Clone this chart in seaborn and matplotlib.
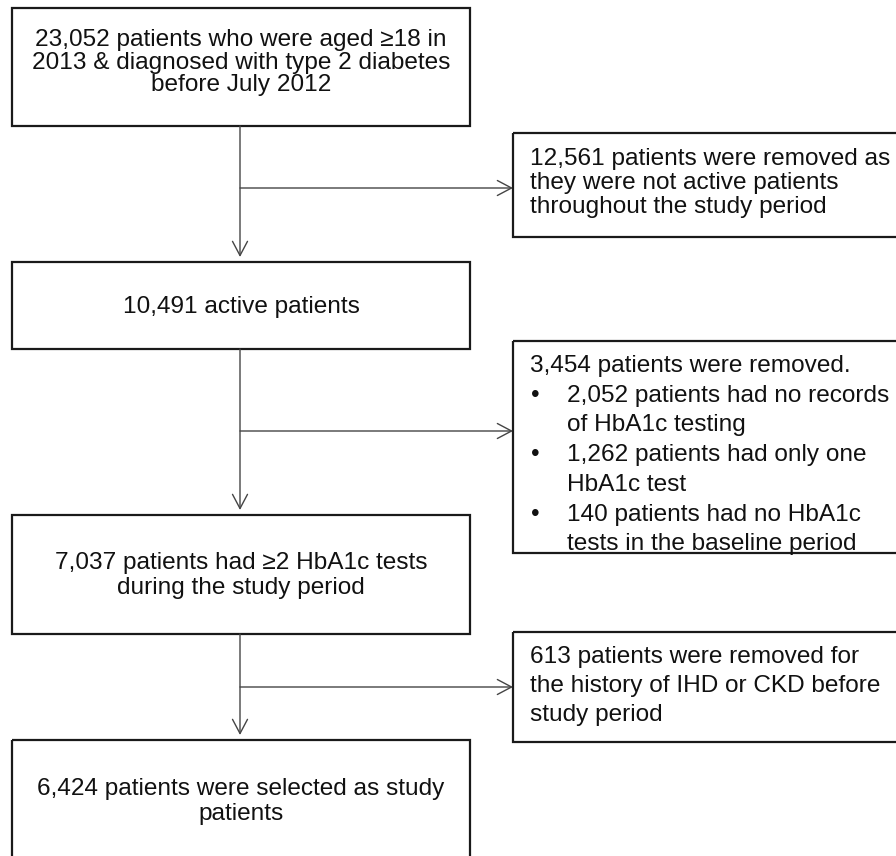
import matplotlib
matplotlib.use("Agg")
import matplotlib.pyplot as plt
import seaborn as sns
from matplotlib.patches import Rectangle

# flowchart content
main_lines = [
    ["23,052 patients who were aged \u226518 in",
     "2013 & diagnosed with type 2 diabetes",
     "before July 2012"],
    ["10,491 active patients"],
    ["7,037 patients had \u22652 HbA1c tests",
     "during the study period"],
    ["6,424 patients were selected as study",
     "patients"],
]
side_lines = [
    [("", "12,561 patients were removed as"),
     ("", "they were not active patients"),
     ("", "throughout the study period")],
    [("", "3,454 patients were removed."),
     ("\u2022", "2,052 patients had no records"),
     (" ", "of HbA1c testing"),
     ("\u2022", "1,262 patients had only one"),
     (" ", "HbA1c test"),
     ("\u2022", "140 patients had no HbA1c"),
     (" ", "tests in the baseline period")],
    [("", "613 patients were removed for"),
     ("", "the history of IHD or CKD before"),
     ("", "study period")],
]

# layout in pixel units (y grows downward)
main_boxes = [(12, 8, 470, 126), (12, 262, 470, 349), (12, 515, 470, 634), (12, 740, 470, 880)]
main_base = [(46, 22.5), (313, 0), (569, 25), (795, 25)]
side_boxes = [(513, 133, 910, 237), (513, 341, 910, 553), (513, 632, 910, 742)]
side_base = [(165, 24), (372, 29.7), (663, 29)]
branch_y = [188, 431, 687]
trunk_x = 240

sns.set_theme(style="white")
plt.rcParams["font.family"] = ["Liberation Sans", "DejaVu Sans"]

fig = plt.figure(figsize=(8.96, 8.56), dpi=100)
ax = fig.add_axes([0, 0, 1, 1])
ax.set_xlim(0, 896)
ax.set_ylim(856, 0)
ax.axis("off")

fs = 17.55
edge = "#1a1a1a"
conn = "#454545"


def draw_box(x0, y0, x1, y1):
    r = Rectangle((x0, y0), x1 - x0, y1 - y0, fill=False, ec=edge, lw=1.6, zorder=3)
    ax.add_patch(r)
    return r


for (x0, y0, x1, y1), lines, (b0, step) in zip(main_boxes, main_lines, main_base):
    r = draw_box(x0, y0, x1, y1)
    cx = (x0 + x1) / 2
    for i, ln in enumerate(lines):
        t = ax.text(cx, b0 + i * step, ln, ha="center", va="baseline", fontsize=fs, color="#111")
        t.set_clip_path(r)

for (x0, y0, x1, y1), lines, (b0, step) in zip(side_boxes, side_lines, side_base):
    r = draw_box(x0, y0, x1, y1)
    for i, (mark, ln) in enumerate(lines):
        y = b0 + i * step
        if mark == "":
            t = ax.text(x0 + 17, y, ln, ha="left", va="baseline", fontsize=fs, color="#111")
        else:
            t = ax.text(x0 + 54, y, ln, ha="left", va="baseline", fontsize=fs, color="#111")
            if mark.strip():
                ax.text(x0 + 22, y, mark, ha="center", va="baseline", fontsize=fs, color="#111")
        t.set_clip_path(r)

arrow = dict(arrowstyle="->,head_length=0.85,head_width=0.45", lw=1.0, color=conn,
             shrinkA=0, shrinkB=0)

# vertical connectors between main boxes
for upper, lower in zip(main_boxes[:-1], main_boxes[1:]):
    ax.annotate("", xy=(trunk_x, lower[1] - 5), xytext=(trunk_x, upper[3]), arrowprops=arrow)

# branches to exclusion boxes
for y, box in zip(branch_y, side_boxes):
    ax.annotate("", xy=(box[0], y), xytext=(trunk_x, y), arrowprops=arrow)

fig.savefig("out.png", dpi=100, facecolor="white")
